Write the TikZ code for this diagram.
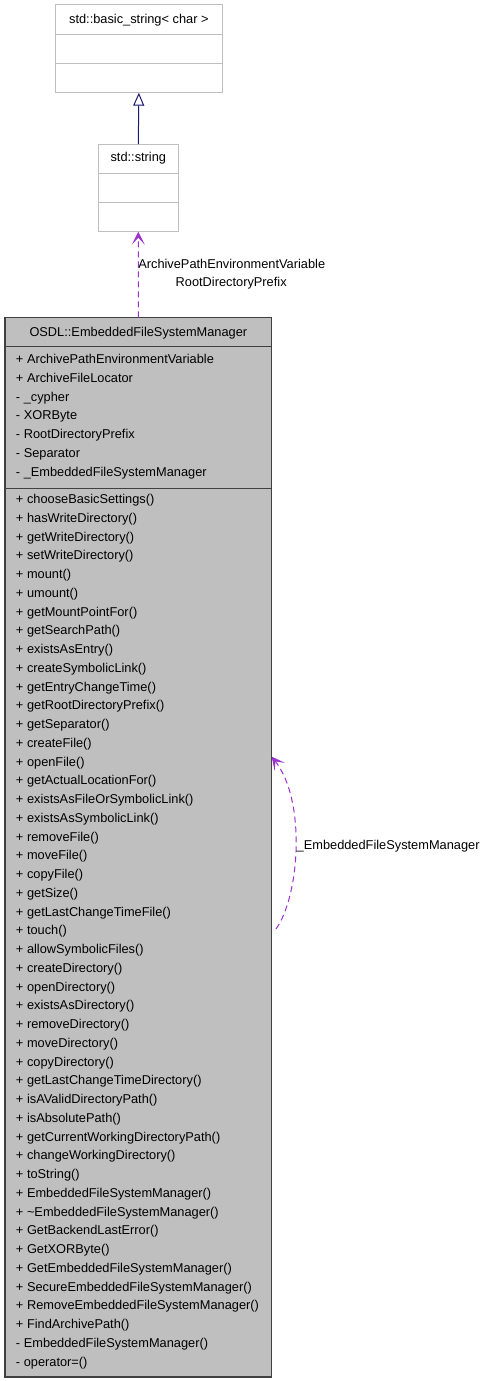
\documentclass[tikz,border=0pt]{standalone}
\usepackage{fontspec}
\setmainfont{Liberation Sans}
\usetikzlibrary{arrows.meta}
\definecolor{umlgray}{HTML}{BFBFBF}
\definecolor{umlborder}{HTML}{404040}
\definecolor{usagepurple}{HTML}{9A32CD}
\definecolor{inhnavy}{HTML}{191970}
\begin{document}
\begin{tikzpicture}[x=1pt,y=-1pt,
  every node/.style={font=\fontsize{12.8}{15}\selectfont, inner sep=0pt, outer sep=0pt},
  lightbox/.style={draw=umlgray, line width=1pt, fill=white},
  mainbox/.style={draw=umlborder, line width=1.3pt, fill=umlgray},
  member/.style={anchor=base west, text height=9.2pt, text depth=0pt},
  inherit/.style={draw=inhnavy, line width=1pt, -{Triangle[open, length=13pt, width=11pt, fill=white]}},
  usage/.style={draw=usagepurple, line width=1pt, dash pattern=on 6pt off 4pt, -{Stealth[length=13pt, width=13pt, inset=7pt, line width=1pt]}},
  elabel/.style={anchor=base west}
]
\useasboundingbox (0,0) rectangle (485,1381);

% basic_string box
\node[lightbox, minimum width=167.7pt, minimum height=87.7pt] (bs) at (138.85,48.85) {};
\draw[umlgray, line width=1pt] (bs.west |- 0,34.3) -- (bs.east |- 0,34.3);
\draw[umlgray, line width=1pt] (bs.west |- 0,63.3) -- (bs.east |- 0,63.3);
\node[anchor=base] (bstitle) at (138.85,24) {std::basic\_string< char >};

% std::string box
\node[lightbox, minimum width=80pt, minimum height=87.7pt] (str) at (138.3,187.85) {};
\draw[umlgray, line width=1pt] (str.west |- 0,173.3) -- (str.east |- 0,173.3);
\draw[umlgray, line width=1pt] (str.west |- 0,202.3) -- (str.east |- 0,202.3);
\node[anchor=base] (strtitle) at (138.3,161.7) {std::string};

% main box
\node[mainbox, minimum width=266.7pt, minimum height=1059.7pt] (main) at (138.35,1347.15-1059.7/2+29.8) {};
\draw[umlborder, line width=1.3pt] (main.west |- 0,346.7) -- (main.east |- 0,346.7);
\draw[umlborder, line width=1.3pt] (main.west |- 0,488.3) -- (main.east |- 0,488.3);
\node[anchor=base] (maintitle) at (138.35,336) {OSDL::EmbeddedFileSystemManager};

% attributes
\foreach \t [count=\i] in {
  {+ ArchivePathEnvironmentVariable},
  {+ ArchiveFileLocator},
  {- \_cypher},
  {- XORByte},
  {- RootDirectoryPrefix},
  {- Separator},
  {- \_EmbeddedFileSystemManager}}
  \node[member] (attr\i) at (16,363.5+18.8*\i-18.8) {\t};

% operations
\foreach \t [count=\i] in {
  {+ chooseBasicSettings()},
  {+ hasWriteDirectory()},
  {+ getWriteDirectory()},
  {+ setWriteDirectory()},
  {+ mount()},
  {+ umount()},
  {+ getMountPointFor()},
  {+ getSearchPath()},
  {+ existsAsEntry()},
  {+ createSymbolicLink()},
  {+ getEntryChangeTime()},
  {+ getRootDirectoryPrefix()},
  {+ getSeparator()},
  {+ createFile()},
  {+ openFile()},
  {+ getActualLocationFor()},
  {+ existsAsFileOrSymbolicLink()},
  {+ existsAsSymbolicLink()},
  {+ removeFile()},
  {+ moveFile()},
  {+ copyFile()},
  {+ getSize()},
  {+ getLastChangeTimeFile()},
  {+ touch()},
  {+ allowSymbolicFiles()},
  {+ createDirectory()},
  {+ openDirectory()},
  {+ existsAsDirectory()},
  {+ removeDirectory()},
  {+ moveDirectory()},
  {+ copyDirectory()},
  {+ getLastChangeTimeDirectory()},
  {+ isAValidDirectoryPath()},
  {+ isAbsolutePath()},
  {+ getCurrentWorkingDirectoryPath()},
  {+ changeWorkingDirectory()},
  {+ toString()},
  {+ EmbeddedFileSystemManager()},
  {+ \textasciitilde EmbeddedFileSystemManager()},
  {+ GetBackendLastError()},
  {+ GetXORByte()},
  {+ GetEmbeddedFileSystemManager()},
  {+ SecureEmbeddedFileSystemManager()},
  {+ RemoveEmbeddedFileSystemManager()},
  {+ FindArchivePath()},
  {- EmbeddedFileSystemManager()},
  {- operator=()}}
  \node[member] (op\i) at (16,503.5+18.75*\i-18.75) {\t};

% connectors
\draw[inherit] (str.north) -- (bs.south);
\draw[usage] (main.north) -- (str.south);
\node[elabel] (lab1) at (138.3,268.3) {ArchivePathEnvironmentVariable};
\node[elabel] (lab2) at (175.7,286.5) {RootDirectoryPrefix};

\coordinate (loopS) at (276,929);
\coordinate (loopE) at (271.7,756.7);
\draw[usage] (loopS) .. controls (300,895) and (306,800) .. (loopE);
\node[elabel] (lab3) at (296.7,849.3) {\_EmbeddedFileSystemManager};
\end{tikzpicture}
\end{document}
